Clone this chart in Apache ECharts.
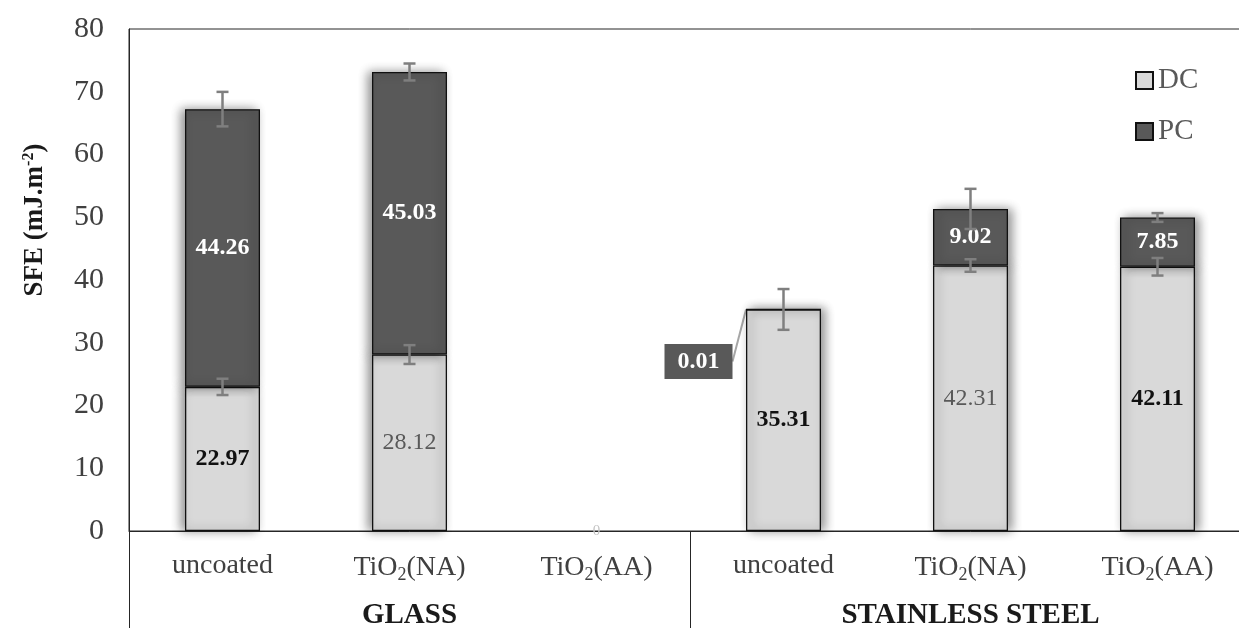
<!DOCTYPE html>
<html>
<head>
<meta charset="utf-8">
<script src="https://cdn.jsdelivr.net/npm/echarts@6/dist/echarts.min.js"></script>
<style>
html,body{margin:0;padding:0;background:#fff;overflow:hidden;}
#chart{width:1260px;height:630px;}
</style>
</head>
<body>
<div id="chart"></div>
<script>
// ---- data ----
const categories = ['uncoated', 'TiO2(NA)', 'TiO2(AA)', 'uncoated', 'TiO2(NA)', 'TiO2(AA)'];
const groups = ['GLASS', 'STAINLESS STEEL'];
const dcValues = [22.97, 28.12, 0, 35.31, 42.31, 42.11];
const pcValues = [44.26, 45.03, 0, 0.01, 9.02, 7.85];
const dcErrors = [1.3, 1.5, 0, 3.25, 1.0, 1.4];
const pcErrors = [2.75, 1.35, 0, 0, 3.2, 0.7];
const yMin = 0, yMax = 80, yInterval = 10;

// ---- styles ----
const FONT = 'Liberation Serif';
const dcLabelBold = [true, false, false, true, false, true];
const groupOfCat = [0, 0, 0, 1, 1, 1];

const chart = echarts.init(document.getElementById('chart'), null, {renderer: 'canvas'});

const barBase = {
  borderColor: '#111',
  borderWidth: 1.3,
  shadowBlur: 10,
  shadowColor: 'rgba(0,0,0,0.45)',
  shadowOffsetY: 0
};

const zeroStyle = {color: 'transparent', borderWidth: 0, shadowBlur: 0, shadowColor: 'transparent'};

const dcData = dcValues.map((v, i) => {
  const item = {value: v};
  if (v === 0) {
    item.itemStyle = zeroStyle;
    item.label = {show: true, formatter: '0', color: '#c4c4c4', fontSize: 15, fontWeight: 'normal'};
  } else {
    item.itemStyle = {shadowOffsetX: groupOfCat[i] === 0 ? -4 : 4};
    item.label = {
      show: true,
      fontWeight: dcLabelBold[i] ? 'bold' : 'normal',
      color: dcLabelBold[i] ? '#111' : '#595959'
    };
  }
  return item;
});

const pcData = pcValues.map((v, i) => {
  const item = {value: v};
  if (v === 0) {
    item.itemStyle = zeroStyle;
    item.label = {show: false};
  } else {
    item.itemStyle = {shadowOffsetX: groupOfCat[i] === 0 ? -4 : 4};
    if (v < 1) {
      item.label = {
        show: true,
        backgroundColor: '#595959',
        color: '#fff',
        fontWeight: 'bold',
        padding: [6, 13, 5, 13]
      };
      item.labelLine = {show: true, lineStyle: {color: '#a6a6a6', width: 2}};
    }
  }
  return item;
});

const errDc = dcValues.map((v, i) => [i, v, dcErrors[i]]).filter(d => d[2] > 0);
const errPc = pcValues.map((v, i) => [i, v + dcValues[i], pcErrors[i]]).filter(d => d[2] > 0);

function renderErr(params, api) {
  const x = api.value(0), y = api.value(1), e = api.value(2);
  const top = api.coord([x, y + e]);
  const bot = api.coord([x, y - e]);
  const cap = 6;
  const style = {stroke: '#7f7f7f', lineWidth: 2.5};
  return {
    type: 'group',
    children: [
      {type: 'line', shape: {x1: top[0], y1: top[1], x2: bot[0], y2: bot[1]}, style},
      {type: 'line', shape: {x1: top[0] - cap, y1: top[1], x2: top[0] + cap, y2: top[1]}, style},
      {type: 'line', shape: {x1: bot[0] - cap, y1: bot[1], x2: bot[0] + cap, y2: bot[1]}, style}
    ]
  };
}

const option = {
  backgroundColor: '#fff',
  animation: false,
  textStyle: {fontFamily: FONT},
  grid: {
    left: 129, top: 29, right: 9, height: 504,
    show: true, borderColor: '#262626', borderWidth: 1, backgroundColor: 'transparent'
  },
  legend: {
    orient: 'vertical',
    left: 1130, top: 61,
    itemWidth: 17, itemHeight: 17, itemGap: 22,
    icon: 'rect',
    data: ['DC', 'PC'],
    textStyle: {fontFamily: FONT, fontSize: 29, color: '#595959'}
  },
  xAxis: [
    {
      type: 'category',
      data: categories.map((c, i) => i + '#' + c),
      position: 'bottom',
      axisLine: {show: true, lineStyle: {color: '#262626', width: 1}},
      axisTick: {show: false},
      axisLabel: {
        interval: 0,
        margin: 21,
        fontFamily: FONT, fontSize: 28, color: '#404040',
        formatter: v => v.split('#')[1].replace('O2', 'O{sub|2}'),
        rich: {
          sub: {fontFamily: FONT, fontSize: 18, color: '#404040', padding: [14, 0, 0, 0]}
        }
      }
    },
    {
      type: 'category',
      data: groups,
      position: 'bottom',
      axisLine: {show: false},
      axisTick: {show: true, length: 97, lineStyle: {color: '#262626', width: 1}},
      axisLabel: {interval: 0, margin: 70, fontFamily: FONT, fontSize: 29, fontWeight: 'bold', color: '#1a1a1a'}
    }
  ],
  yAxis: {
    type: 'value',
    min: yMin, max: yMax, interval: yInterval,
    axisLine: {show: true, lineStyle: {color: '#262626', width: 1}},
    axisTick: {show: false},
    splitLine: {show: false},
    axisLabel: {margin: 25, fontFamily: FONT, fontSize: 30, color: '#404040'},
    name: 'SFE (mJ.m{sup|-2})',
    nameLocation: 'middle',
    nameGap: 80,
    nameRotate: 90,
    nameTextStyle: {
      fontFamily: FONT, fontSize: 27, fontWeight: 'bold', color: '#1a1a1a',
      padding: [0, 0, 0, 120],
      rich: {sup: {fontFamily: FONT, fontSize: 16, fontWeight: 'bold', color: '#1a1a1a', padding: [0, 0, 12, 0]}}
    }
  },
  series: [
    {
      name: 'DC', type: 'bar', stack: 'sfe', barWidth: 75,
      itemStyle: Object.assign({color: '#d9d9d9'}, barBase),
      label: {show: true, position: 'inside', fontFamily: FONT, fontSize: 24,
        formatter: p => p.value.toFixed(2)},
      data: dcData
    },
    {
      name: 'PC', type: 'bar', stack: 'sfe', barWidth: 75,
      itemStyle: Object.assign({color: '#595959'}, barBase),
      label: {show: true, position: 'inside', fontFamily: FONT, fontSize: 24, fontWeight: 'bold', color: '#fff',
        formatter: p => p.value.toFixed(2)},
      labelLayout: p => (p.dataIndex === 3 ? {dx: -85, dy: 52} : {}),
      data: pcData
    },
    {
      type: 'custom', name: 'errDC', z: 10, renderItem: renderErr,
      encode: {x: 0, y: 1}, data: errDc, silent: true
    },
    {
      type: 'custom', name: 'errPC', z: 10, renderItem: renderErr,
      encode: {x: 0, y: 1}, data: errPc, silent: true
    }
  ]
};

chart.setOption(option);
</script>
</body>
</html>
